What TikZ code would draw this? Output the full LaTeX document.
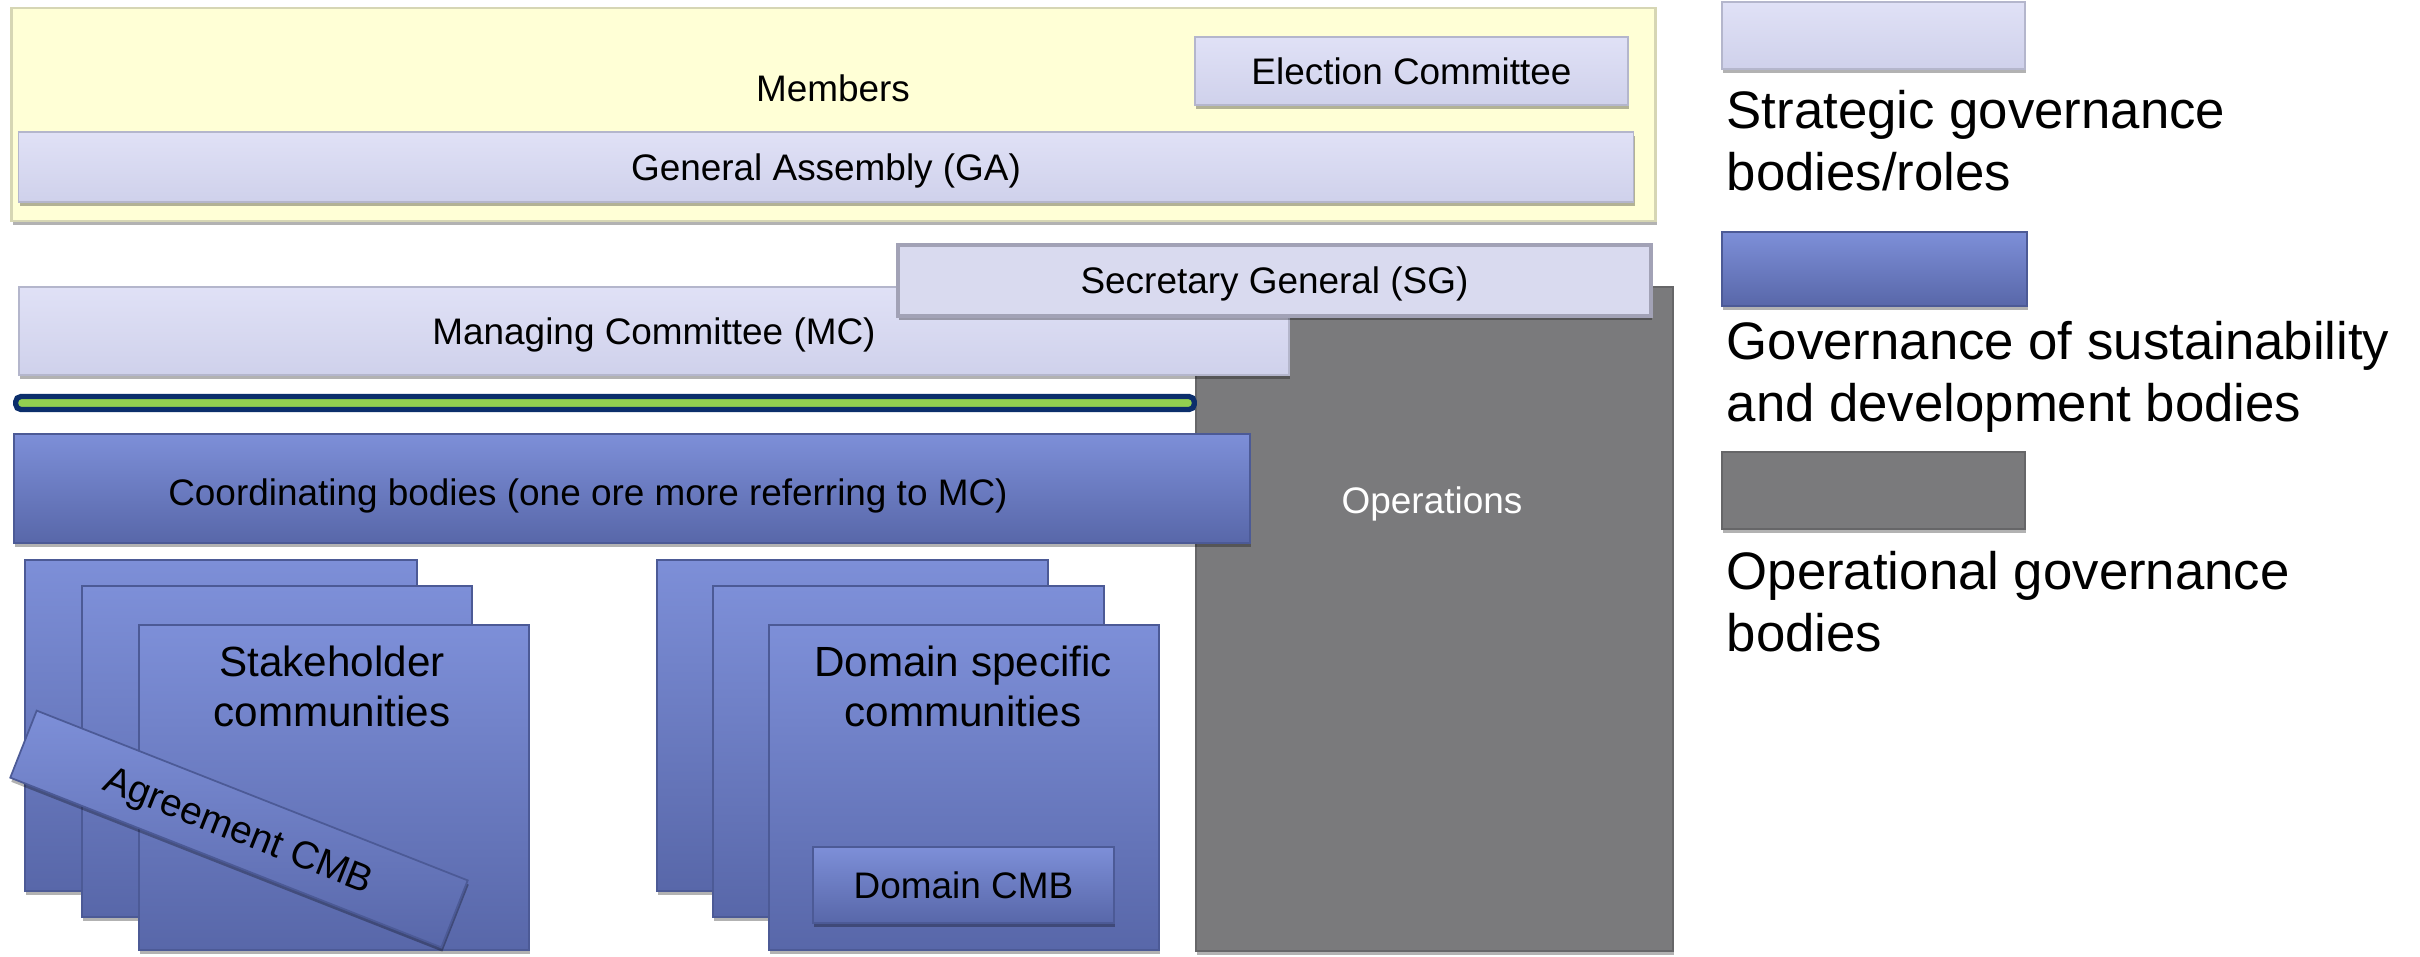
\documentclass[tikz,border=0pt]{standalone}
\usepackage{fontspec}
\setmainfont{Liberation Sans}
\usetikzlibrary{shadows}
\definecolor{yelfill}{HTML}{FFFFD6}
\definecolor{yelline}{HTML}{D6D6B4}
\definecolor{strattop}{HTML}{E0E1F6}
\definecolor{stratbot}{HTML}{CFD1EB}
\definecolor{stratline}{HTML}{B4B6CC}
\definecolor{sgline}{HTML}{A2A2B6}
\definecolor{bluetop}{HTML}{7D8FD8}
\definecolor{bluebot}{HTML}{5867A9}
\definecolor{blueline}{HTML}{4C5A96}
\definecolor{opsfill}{HTML}{7A7A7C}
\definecolor{opsline}{HTML}{666668}
\definecolor{barnavy}{HTML}{0B2E6B}
\definecolor{bargreen}{HTML}{92D050}
\begin{document}
\begin{tikzpicture}[x=0.01cm,y=-0.01cm,
  boxbase/.style={draw, inner sep=0pt, align=center, text depth=0pt, font=\fontsize{10.5}{12.6}\selectfont,
    drop shadow={shadow xshift=0.3pt, shadow yshift=-1.2pt, opacity=0.3, fill=black}},
  yel/.style={boxbase, fill=yelfill, draw=yelline, line width=0.6pt},
  strat/.style={boxbase, top color=strattop, bottom color=stratbot, draw=stratline, line width=0.5pt},
  sgbox/.style={boxbase, fill=stratbot!80!white, draw=sgline, line width=1pt},
  bluebox/.style={boxbase, top color=bluetop, bottom color=bluebot, draw=blueline, line width=0.5pt},
  opsbox/.style={boxbase, fill=opsfill, draw=opsline, line width=0.6pt},
  lbl/.style={inner sep=0pt, text depth=0pt, font=\fontsize{10.5}{12.6}\selectfont, align=center},
  comm/.style={inner sep=0pt, font=\fontsize{12}{14.2}\selectfont, align=center},
  legtxt/.style={inner sep=0pt, anchor=base west, align=left, font=\fontsize{15}{17.6}\selectfont}
]
\useasboundingbox (0,0) rectangle (2420,956);

% strategic top block
\node[yel, minimum width=16.43cm, minimum height=2.13cm] (members) at (833.5,114.5) {};
\node[lbl] (memberstxt) at (833,88) {Members};
\node[strat, minimum width=4.33cm, minimum height=0.68cm] (election) at (1411.5,71) {Election Committee};
\node[strat, minimum width=16.14cm, minimum height=0.70cm] (ga) at (826,167) {General Assembly (GA)};

% operations
\node[opsbox, minimum width=4.77cm, minimum height=6.63cm] (ops) at (1434.5,619) {};
\node[lbl, text=white] (opstxt) at (1432,500) {Operations};

% managing committee and SG
\node[strat, minimum width=12.70cm, minimum height=0.88cm] (mc) at (654,331) {Managing Committee (MC)};
\node[sgbox, minimum width=7.53cm, minimum height=0.71cm] (sg) at (1274.5,280.5) {Secretary General (SG)};

% green bar
\node[draw=barnavy, fill=bargreen, line width=1.5pt, inner sep=0pt, rounded corners=1.5pt,
      minimum width=11.78cm, minimum height=0.13cm] (bar) at (605,403) {};

% coordinating bodies
\node[bluebox, minimum width=12.36cm, minimum height=1.09cm] (coord) at (632,488.5) {};
\node[lbl] (coordtxt) at (588,492) {Coordinating bodies (one ore more referring to MC)};

% stakeholder communities stack
\node[bluebox, minimum width=3.92cm, minimum height=3.31cm] (sh1) at (221,725.5) {};
\node[bluebox, minimum width=3.90cm, minimum height=3.31cm] (sh2) at (277,751.5) {};
\node[bluebox, minimum width=3.90cm, minimum height=3.25cm] (sh3) at (334,787.5) {};
\node[comm] (shtxt) at (332,686) {Stakeholder\\communities};
\node[bluebox, rotate=-21.5, minimum width=4.63cm, minimum height=0.72cm,
      font=\fontsize{11}{13}\selectfont] (agree) at (239,829) {Agreement CMB};

% domain specific communities stack
\node[bluebox, minimum width=3.91cm, minimum height=3.31cm] (d1) at (852.5,725.5) {};
\node[bluebox, minimum width=3.91cm, minimum height=3.31cm] (d2) at (908.5,751.5) {};
\node[bluebox, minimum width=3.90cm, minimum height=3.25cm] (d3) at (964,787.5) {};
\node[comm] (dtxt) at (963,686) {Domain specific\\communities};
\node[bluebox, minimum width=3.01cm, minimum height=0.76cm] (dcmb) at (963.5,885) {Domain CMB};

% legend
\node[strat, minimum width=3.03cm, minimum height=0.67cm] (leg1) at (1873.5,35.5) {};
\node[legtxt] (leg1txt) at (1726,190) {Strategic governance\\bodies/roles};
\node[bluebox, minimum width=3.05cm, minimum height=0.74cm] (leg2) at (1874.5,269) {};
\node[legtxt] (leg2txt) at (1726,421) {Governance of sustainability\\and development bodies};
\node[opsbox, minimum width=3.03cm, minimum height=0.77cm] (leg3) at (1873.5,490.5) {};
\node[legtxt] (leg3txt) at (1726,651) {Operational governance\\bodies};
\end{tikzpicture}
\end{document}
